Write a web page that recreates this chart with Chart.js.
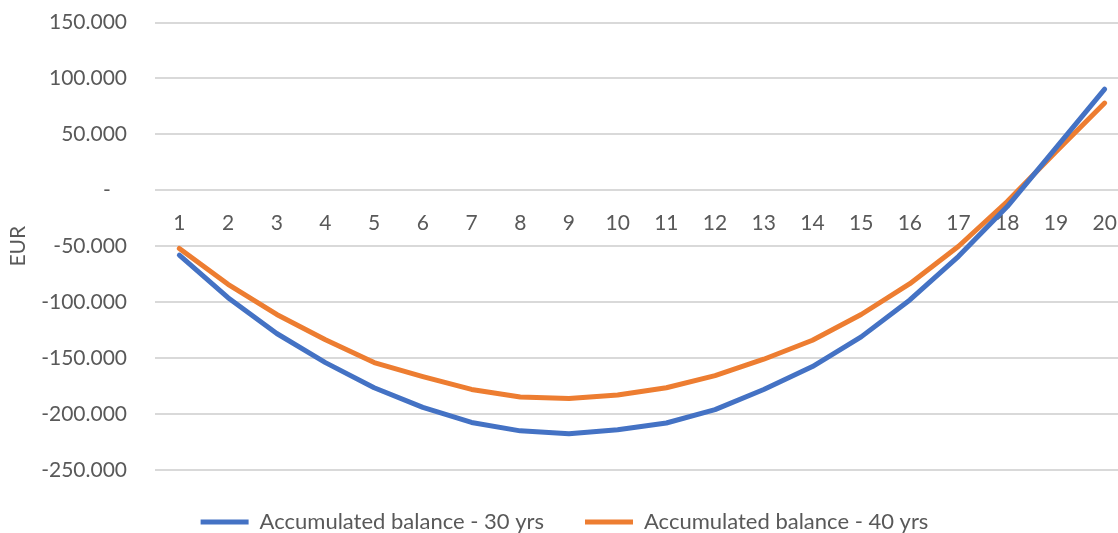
<!DOCTYPE html>
<html>
<head>
<meta charset="utf-8">
<script src="https://cdn.jsdelivr.net/npm/chart.js@4/dist/chart.umd.min.js"></script>
<style>
  html, body { margin: 0; padding: 0; background: #ffffff; overflow: hidden; }
  #wrap { width: 1129px; height: 543px; }
</style>
</head>
<body>
<div id="wrap"><canvas id="c" width="1129" height="543"></canvas></div>
<script>
// Year index along the horizontal axis
const years = ['1','2','3','4','5','6','7','8','9','10','11','12','13','14','15','16','17','18','19','20'];

// Accumulated balance in EUR per year
const balance30 = [-58000, -96000, -128000, -154000, -176500, -194000, -207500, -215000, -217500, -214000,
                   -208000, -196000, -178000, -157500, -131000, -98000, -59000, -14500, 38000, 90500];
const balance40 = [-52000, -84000, -111000, -133500, -154000, -166500, -178000, -184700, -186000, -183000,
                   -176500, -165600, -151000, -134000, -111000, -83500, -50000, -10000, 34500, 78000];

const seriesNames = ['Accumulated balance - 30 yrs', 'Accumulated balance - 40 yrs'];

const FONT = 'Lato';
const TEXT = '#595959';

// Accounting style: 150000 -> "150.000", 0 -> "-" (dash padded like the accounting format)
function fmtThousands(v) {
  if (v === 0) return '-   ';
  const s = Math.abs(v).toString().replace(/\B(?=(\d{3})+(?!\d))/g, '.');
  return (v < 0 ? '-' : '') + s;
}

function lineDataset(label, data, color) {
  return {
    label, data,
    borderColor: color,
    backgroundColor: color,
    borderWidth: 5,
    borderCapStyle: 'round',
    borderJoinStyle: 'round',
    pointRadius: 0,
    tension: 0
  };
}

new Chart(document.getElementById('c'), {
  type: 'line',
  data: {
    labels: years,
    datasets: [
      lineDataset(seriesNames[0], balance30, '#4472C4'),
      lineDataset(seriesNames[1], balance40, '#ED7D31')
    ]
  },
  options: {
    responsive: false,
    animation: false,
    layout: { padding: { top: 22.5, left: 0, right: 0, bottom: 0 } },
    plugins: {
      tooltip: { enabled: false },
      legend: {
        position: 'bottom',
        labels: {
          usePointStyle: true,
          pointStyle: 'line',
          pointStyleWidth: 48,
          boxHeight: 5,
          padding: 41,
          color: TEXT,
          font: { family: FONT, size: 22 }
        }
      }
    },
    scales: {
      x: {
        type: 'category',
        position: { y: 0 },
        offset: true,
        grid: { display: false, drawTicks: false },
        border: { display: false },
        ticks: {
          color: TEXT,
          font: { family: FONT, size: 21 },
          padding: 20,
          maxRotation: 0,
          autoSkip: false
        },
        // the axis sits on the zero line, so it reserves no room of its own
        afterFit: (s) => { s.height = 0; s.paddingLeft = 0; s.paddingRight = 0; }
      },
      y: {
        min: -250000,
        max: 150000,
        grid: { color: '#D9D9D9', lineWidth: 2, drawTicks: false },
        border: { display: false },
        ticks: {
          stepSize: 50000,
          color: TEXT,
          font: { family: FONT, size: 21 },
          padding: 28,
          callback: (v) => fmtThousands(v)
        },
        title: {
          display: true,
          text: 'EUR',
          color: TEXT,
          font: { family: FONT, size: 21 },
          padding: { top: 6, bottom: 0 }
        },
        afterFit: (s) => { s.width = 155; s.paddingTop = 0; s.paddingBottom = 0; }
      }
    }
  }
});
</script>
</body>
</html>
